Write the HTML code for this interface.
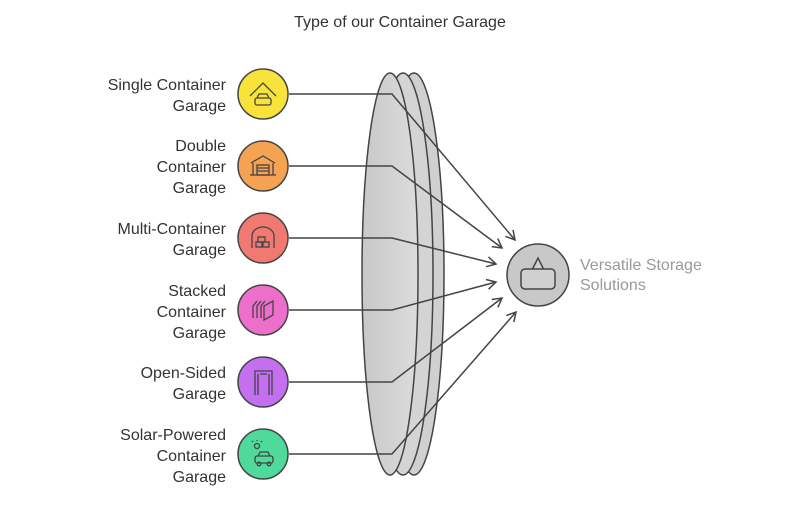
<!DOCTYPE html>
<html><head><meta charset="utf-8"><style>
body{margin:0;background:#fff;}
svg text{font-family:"Liberation Sans",sans-serif;}
</style></head><body>
<svg width="800" height="500" viewBox="0 0 800 500" xmlns="http://www.w3.org/2000/svg">
<defs>
<linearGradient id="g" x1="0" x2="1"><stop offset="0" stop-color="#c8c8c8"/><stop offset="1" stop-color="#dcdcdc"/></linearGradient>
<marker id="a" markerWidth="12" markerHeight="12" refX="10" refY="6" orient="auto" markerUnits="userSpaceOnUse"><path d="M1,1 L10,6 L1,11" fill="none" stroke="#444" stroke-width="1.5"/></marker>
</defs>
<rect width="800" height="500" fill="#fff"/>
<text x="400" y="27" text-anchor="middle" font-size="16" fill="#333">Type of our Container Garage</text>
<!-- lens -->
<ellipse cx="414" cy="274" rx="30" ry="201" fill="#d0d0d0" stroke="#444" stroke-width="1.5"/>
<ellipse cx="403" cy="274" rx="30" ry="201" fill="#d4d4d4" stroke="#444" stroke-width="1.5"/>
<ellipse cx="390" cy="274" rx="28" ry="201" fill="url(#g)" stroke="#444" stroke-width="1.5"/>
<!-- connectors -->
<g fill="none" stroke="#444" stroke-width="1.5" marker-end="url(#a)">
<path d="M289,94 H392 L515,240"/>
<path d="M289,166 H392 L502,248"/>
<path d="M289,238 H392 L496,264"/>
<path d="M289,310 H392 L496,282"/>
<path d="M289,382 H392 L502,298"/>
<path d="M289,454 H392 L516,312"/>
</g>
<!-- circles -->
<g stroke="#444" stroke-width="1.5">
<circle cx="263" cy="94" r="25" fill="#f7e33a"/>
<circle cx="263" cy="166" r="25" fill="#f5a352"/>
<circle cx="263" cy="238" r="25" fill="#f07a72"/>
<circle cx="263" cy="310" r="25" fill="#ee6fcb"/>
<circle cx="263" cy="382" r="25" fill="#c46ef0"/>
<circle cx="263" cy="454" r="25" fill="#4fd99a"/>
</g>
<!-- icons -->
<g fill="none" stroke="#444" stroke-width="1.3">
<path d="M250,96 L263,83 L276,96"/><rect x="255" y="98" width="16" height="7" rx="2"/><path d="M257,98 l2,-4 h8 l2,4"/>
<path d="M251,163 L263,156 L275,163 M253,163 v12 M273,163 v12 M250,175 h26"/><rect x="257" y="165" width="12" height="10"/><path d="M257,168 h12 M257,171 h12"/>
<path d="M252,248 v-12 a11,9 0 0 1 22,0 v12"/><rect x="258" y="237" width="7" height="5"/><rect x="256" y="242" width="6" height="5"/><rect x="263" y="242" width="6" height="5"/>
<path d="M253,318 v-12 l4,-5 M257,318 v-12 l4,-5 M261,318 v-12 l4,-5"/><path d="M264,320 v-14 l9,-5 v14 z"/>
<path d="M255,395 v-24 h17 v24 M258,395 v-21 M269,395 v-21 M260,374 h7"/>
<circle cx="257" cy="446" r="2.5"/><path d="M252,441 l1,1 M262,441 l-1,1 M257,440 v1"/><rect x="255" y="456" width="18" height="7" rx="2"/><path d="M258,456 l2,-4 h8 l2,4"/><circle cx="259" cy="464" r="1.8"/><circle cx="269" cy="464" r="1.8"/>
</g>
<!-- target -->
<circle cx="538" cy="275" r="31" fill="#c8c8c8" stroke="#444" stroke-width="1.5"/>
<path d="M532,270 L538,258 L544,270" fill="#d0d0d0" stroke="#444" stroke-width="1.5"/>
<rect x="521" y="269" width="34" height="20" rx="4" fill="#d0d0d0" stroke="#444" stroke-width="1.5"/>
<text x="580" y="270" font-size="16" fill="#9a9a9a">Versatile Storage</text>
<text x="580" y="290" font-size="16" fill="#9a9a9a">Solutions</text>
<!-- labels -->
<g font-size="16" fill="#333" text-anchor="end">
<text x="226" y="90">Single Container</text><text x="226" y="111">Garage</text>
<text x="226" y="151">Double</text><text x="226" y="172">Container</text><text x="226" y="193">Garage</text>
<text x="226" y="234">Multi-Container</text><text x="226" y="255">Garage</text>
<text x="226" y="296">Stacked</text><text x="226" y="317">Container</text><text x="226" y="338">Garage</text>
<text x="226" y="378">Open-Sided</text><text x="226" y="399">Garage</text>
<text x="226" y="440">Solar-Powered</text><text x="226" y="461">Container</text><text x="226" y="482">Garage</text>
</g>
</svg>
</body></html>
